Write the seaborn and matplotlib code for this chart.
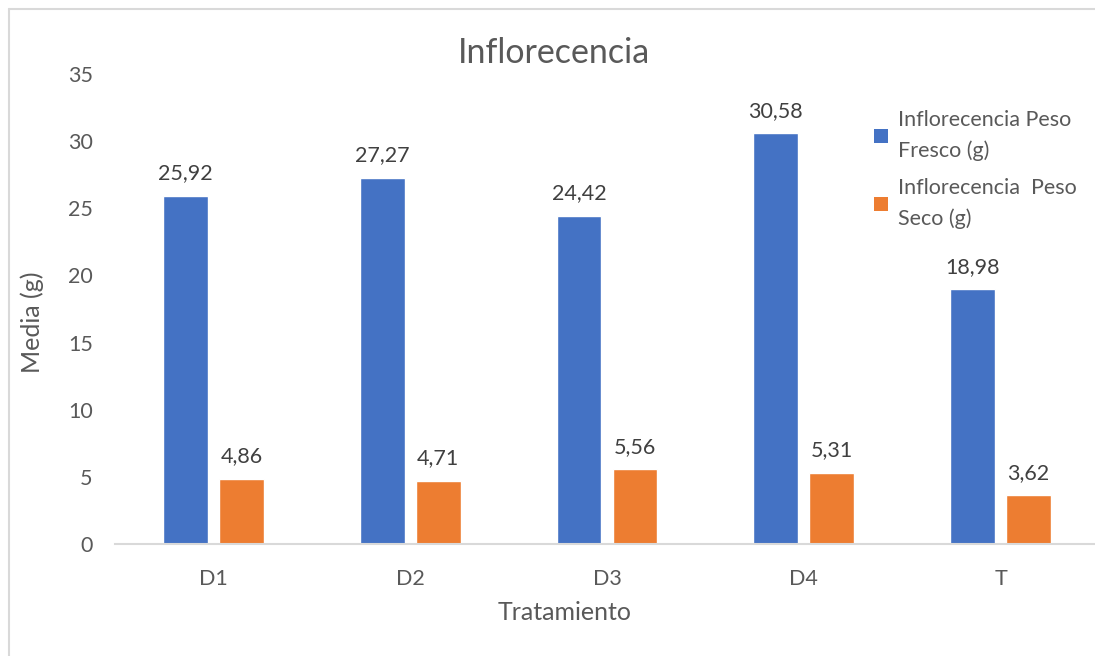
import matplotlib
matplotlib.use("Agg")
import matplotlib.pyplot as plt
import seaborn as sns
import pandas as pd
from matplotlib.lines import Line2D
from matplotlib.patches import Patch

# chart data
tratamientos = ["D1", "D2", "D3", "D4", "T"]
peso_fresco = [25.92, 27.27, 24.42, 30.58, 18.98]
peso_seco = [4.86, 4.71, 5.56, 5.31, 3.62]
series = ["Inflorecencia Peso\nFresco (g)", "Inflorecencia  Peso\nSeco (g)"]
y_ticks = [0, 5, 10, 15, 20, 25, 30, 35]

df = pd.DataFrame({
    "Tratamiento": tratamientos * 2,
    "Media": peso_fresco + peso_seco,
    "Serie": [series[0]] * len(tratamientos) + [series[1]] * len(tratamientos),
})

sns.set_style("white")
plt.rcParams["font.family"] = ["Lato", "DejaVu Sans"]

colors = ["#4472C4", "#ED7D31"]
text_gray = "#595959"
line_gray = "#D9D9D9"

fig = plt.figure(figsize=(10.95, 6.56), dpi=100)
ax = fig.add_axes([115 / 1095, 112 / 656, 984 / 1095, 470 / 656])

sns.barplot(data=df, x="Tratamiento", y="Media", hue="Serie", hue_order=series,
            palette=colors, width=0.57, gap=0.2, saturation=1, ax=ax, legend=False)

# value labels with decimal comma
for container, vals in zip(ax.containers, [peso_fresco, peso_seco]):
    ax.bar_label(container, labels=[f"{v:.2f}".replace(".", ",") for v in vals],
                 padding=9, fontsize=15.5, color="#404040")

ax.set_ylim(0, 35)
ax.set_yticks(y_ticks)
ax.set_xlim(-0.5, 4.5)
ax.set_xlabel("")
ax.set_ylabel("")
ax.tick_params(axis="y", length=0, pad=16, labelsize=15.5, labelcolor=text_gray)
ax.tick_params(axis="x", length=0, pad=18, labelsize=15.5, labelcolor=text_gray)
for side in ["top", "right", "left"]:
    ax.spines[side].set_visible(False)
ax.spines["bottom"].set_color(line_gray)
ax.spines["bottom"].set_linewidth(1.5)
ax.grid(False)

# titles and axis labels
fig.text(554 / 1095, 1 - 53 / 656, "Inflorecencia", ha="center", va="center",
         fontsize=24.5, color=text_gray)
fig.text(32 / 1095, 1 - 322 / 656, "Media (g)", ha="center", va="center",
         rotation=90, fontsize=18, color=text_gray)
fig.text(565 / 1095, 1 - 612 / 656, "Tratamiento", ha="center", va="center",
         fontsize=18, color=text_gray)

# legend
handles = [Patch(facecolor=c, edgecolor="none") for c in colors]
leg = fig.legend(handles, series, loc="upper left",
                 bbox_to_anchor=(855 / 1095, 1 - 91 / 656), frameon=False,
                 fontsize=15.5, handlelength=0.65, handleheight=0.65,
                 handletextpad=0.45, labelspacing=0.8, labelcolor=text_gray)
for t in leg.get_texts():
    t.set_linespacing(1.6)

# chart border
fig.add_artist(Line2D([9 / 1095, 1], [1 - 9 / 656, 1 - 9 / 656], color=line_gray,
                      lw=1.5, transform=fig.transFigure))
fig.add_artist(Line2D([9 / 1095, 9 / 1095], [0, 1 - 9 / 656], color=line_gray,
                      lw=1.5, transform=fig.transFigure))

fig.savefig("out.png", dpi=100)
